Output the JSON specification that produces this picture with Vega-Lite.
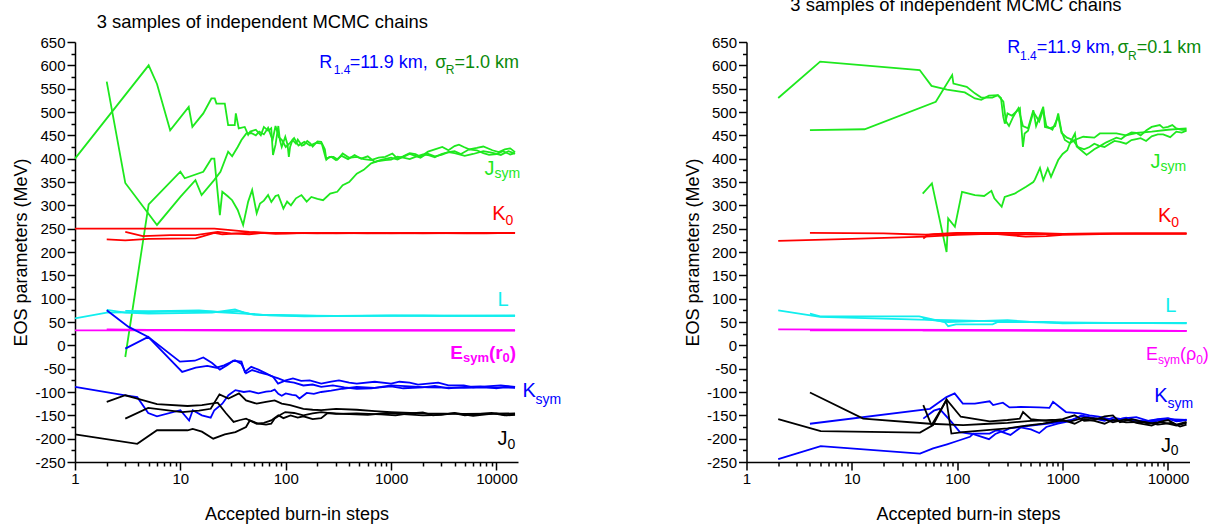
{
"$schema":"https://vega.github.io/schema/vega-lite/v6.json",
"autosize":{"type":"none"},
"padding":{"left":75,"top":42,"right":1141,"bottom":484},
"background":"#ffffff",
"bounds":"flush",
"spacing":228.5,
"config":{
 "font":"Liberation Sans",
 "view":{"stroke":null},
 "axis":{"grid":false,"domainColor":"#000","domainWidth":1.5,"tickColor":"#000","tickWidth":1.5,"labelFont":"Liberation Sans","labelFontSize":15,"labelColor":"#000","titleFont":"Liberation Sans","titleFontSize":18,"titleFontWeight":"normal","titleColor":"#000"},
 "text":{"font":"Liberation Sans"}
},
"datasets":{
"L1":[
{"q":"J","c":"a","x":1,"y":400},{"q":"J","c":"a","x":5,"y":600},{"q":"J","c":"a","x":6,"y":560},{"q":"J","c":"a","x":8,"y":461},{"q":"J","c":"a","x":12,"y":511},{"q":"J","c":"a","x":13,"y":468},{"q":"J","c":"a","x":16.5,"y":497},{"q":"J","c":"a","x":19.7,"y":529},{"q":"J","c":"a","x":21.2,"y":529},{"q":"J","c":"a","x":22,"y":518},{"q":"J","c":"a","x":26.4,"y":518},{"q":"J","c":"a","x":28.4,"y":472},{"q":"J","c":"a","x":32.8,"y":472},{"q":"J","c":"a","x":33.6,"y":497},{"q":"J","c":"a","x":35.8,"y":465},{"q":"J","c":"a","x":40.8,"y":468},{"q":"J","c":"a","x":44,"y":451},{"q":"J","c":"a","x":46,"y":458},{"q":"J","c":"a","x":52,"y":462},{"q":"J","c":"a","x":58,"y":450},{"q":"J","c":"a","x":62,"y":468},{"q":"J","c":"a","x":68,"y":460},{"q":"J","c":"a","x":72.8,"y":465},{"q":"J","c":"a","x":75.7,"y":408},{"q":"J","c":"a","x":80,"y":430},{"q":"J","c":"a","x":85,"y":470},{"q":"J","c":"a","x":88,"y":440},{"q":"J","c":"a","x":91.6,"y":425},{"q":"J","c":"a","x":99,"y":447},{"q":"J","c":"a","x":104,"y":430},{"q":"J","c":"a","x":107,"y":404},{"q":"J","c":"a","x":110,"y":425},{"q":"J","c":"a","x":116,"y":440},{"q":"J","c":"a","x":125,"y":432},{"q":"J","c":"a","x":130,"y":441},{"q":"J","c":"a","x":142,"y":428},{"q":"J","c":"a","x":150,"y":430},{"q":"J","c":"a","x":160,"y":438},{"q":"J","c":"a","x":171,"y":433},{"q":"J","c":"a","x":180,"y":426},{"q":"J","c":"a","x":200,"y":437},{"q":"J","c":"a","x":217,"y":436},{"q":"J","c":"a","x":235,"y":420},{"q":"J","c":"a","x":243,"y":398},{"q":"J","c":"a","x":260,"y":404},{"q":"J","c":"a","x":284,"y":404},{"q":"J","c":"a","x":310,"y":398},{"q":"J","c":"a","x":347,"y":411},{"q":"J","c":"a","x":400,"y":402},{"q":"J","c":"a","x":472,"y":404},{"q":"J","c":"a","x":550,"y":399},{"q":"J","c":"a","x":646,"y":397},{"q":"J","c":"a","x":760,"y":402},{"q":"J","c":"a","x":880,"y":404},{"q":"J","c":"a","x":1028,"y":411},{"q":"J","c":"a","x":1300,"y":405},{"q":"J","c":"a","x":1700,"y":410},{"q":"J","c":"a","x":2240,"y":415},{"q":"J","c":"a","x":3060,"y":425},{"q":"J","c":"a","x":4000,"y":427},{"q":"J","c":"a","x":4900,"y":425},{"q":"J","c":"a","x":6500,"y":423},{"q":"J","c":"a","x":9150,"y":418},{"q":"J","c":"a","x":12000,"y":420},{"q":"J","c":"a","x":15000,"y":414},
{"q":"J","c":"a","x":1150,"y":400},{"q":"J","c":"a","x":1500,"y":412},{"q":"J","c":"a","x":1900,"y":404},{"q":"J","c":"a","x":2600,"y":420},{"q":"J","c":"a","x":3500,"y":418},{"q":"J","c":"a","x":4400,"y":430},{"q":"J","c":"a","x":5500,"y":420},{"q":"J","c":"a","x":7500,"y":426},{"q":"J","c":"a","x":10500,"y":414},{"q":"J","c":"a","x":13500,"y":422},
{"q":"J","c":"b","x":2,"y":565},{"q":"J","c":"b","x":3,"y":348},{"q":"J","c":"b","x":6,"y":258},{"q":"J","c":"b","x":10,"y":318},{"q":"J","c":"b","x":13.9,"y":354},{"q":"J","c":"b","x":15.9,"y":322},{"q":"J","c":"b","x":20.9,"y":354},{"q":"J","c":"b","x":24,"y":372},{"q":"J","c":"b","x":28.4,"y":415},{"q":"J","c":"b","x":31,"y":405},{"q":"J","c":"b","x":35,"y":425},{"q":"J","c":"b","x":38,"y":440},{"q":"J","c":"b","x":42.3,"y":454},{"q":"J","c":"b","x":47,"y":455},{"q":"J","c":"b","x":52,"y":450},{"q":"J","c":"b","x":56,"y":458},{"q":"J","c":"b","x":62,"y":452},{"q":"J","c":"b","x":68,"y":466},{"q":"J","c":"b","x":75,"y":440},{"q":"J","c":"b","x":80,"y":470},{"q":"J","c":"b","x":86,"y":446},{"q":"J","c":"b","x":92,"y":440},{"q":"J","c":"b","x":100,"y":425},{"q":"J","c":"b","x":108,"y":432},{"q":"J","c":"b","x":120,"y":444},{"q":"J","c":"b","x":132,"y":428},{"q":"J","c":"b","x":150,"y":436},{"q":"J","c":"b","x":170,"y":428},{"q":"J","c":"b","x":195,"y":434},{"q":"J","c":"b","x":220,"y":432},{"q":"J","c":"b","x":240,"y":400},{"q":"J","c":"b","x":270,"y":404},{"q":"J","c":"b","x":300,"y":397},{"q":"J","c":"b","x":340,"y":406},{"q":"J","c":"b","x":390,"y":399},{"q":"J","c":"b","x":450,"y":408},{"q":"J","c":"b","x":520,"y":400},{"q":"J","c":"b","x":600,"y":405},{"q":"J","c":"b","x":700,"y":393},{"q":"J","c":"b","x":820,"y":398},{"q":"J","c":"b","x":1000,"y":402},{"q":"J","c":"b","x":1300,"y":404},{"q":"J","c":"b","x":1700,"y":406},{"q":"J","c":"b","x":2200,"y":411},{"q":"J","c":"b","x":3000,"y":408},{"q":"J","c":"b","x":4000,"y":416},{"q":"J","c":"b","x":5500,"y":420},{"q":"J","c":"b","x":7500,"y":412},{"q":"J","c":"b","x":10000,"y":410},{"q":"J","c":"b","x":15000,"y":412},
{"q":"J","c":"b","x":1150,"y":398},{"q":"J","c":"b","x":1500,"y":410},{"q":"J","c":"b","x":1900,"y":402},{"q":"J","c":"b","x":2600,"y":405},{"q":"J","c":"b","x":3500,"y":414},{"q":"J","c":"b","x":4600,"y":410},{"q":"J","c":"b","x":6500,"y":418},{"q":"J","c":"b","x":8500,"y":408},{"q":"J","c":"b","x":11500,"y":416},{"q":"J","c":"b","x":13500,"y":409},
{"q":"J","c":"c","x":3,"y":-25},{"q":"J","c":"c","x":5,"y":302},{"q":"J","c":"c","x":10,"y":372},{"q":"J","c":"c","x":11,"y":358},{"q":"J","c":"c","x":16.5,"y":372},{"q":"J","c":"c","x":19.7,"y":400},{"q":"J","c":"c","x":21,"y":400},{"q":"J","c":"c","x":23.7,"y":279},{"q":"J","c":"c","x":25,"y":329},{"q":"J","c":"c","x":28,"y":320},{"q":"J","c":"c","x":31,"y":311},{"q":"J","c":"c","x":35,"y":290},{"q":"J","c":"c","x":39.4,"y":258},{"q":"J","c":"c","x":44,"y":308},{"q":"J","c":"c","x":48,"y":333},{"q":"J","c":"c","x":53,"y":283},{"q":"J","c":"c","x":57,"y":304},{"q":"J","c":"c","x":62,"y":310},{"q":"J","c":"c","x":68,"y":322},{"q":"J","c":"c","x":73,"y":307},{"q":"J","c":"c","x":80,"y":320},{"q":"J","c":"c","x":85,"y":322},{"q":"J","c":"c","x":95,"y":293},{"q":"J","c":"c","x":103,"y":308},{"q":"J","c":"c","x":112,"y":300},{"q":"J","c":"c","x":125,"y":315},{"q":"J","c":"c","x":141,"y":322},{"q":"J","c":"c","x":158,"y":308},{"q":"J","c":"c","x":175,"y":318},{"q":"J","c":"c","x":200,"y":314},{"q":"J","c":"c","x":226,"y":311},{"q":"J","c":"c","x":264,"y":325},{"q":"J","c":"c","x":308,"y":329},{"q":"J","c":"c","x":347,"y":343},{"q":"J","c":"c","x":400,"y":350},{"q":"J","c":"c","x":472,"y":368},{"q":"J","c":"c","x":550,"y":376},{"q":"J","c":"c","x":646,"y":390},{"q":"J","c":"c","x":760,"y":395},{"q":"J","c":"c","x":880,"y":397},{"q":"J","c":"c","x":1000,"y":398},{"q":"J","c":"c","x":1300,"y":402},{"q":"J","c":"c","x":1700,"y":404},{"q":"J","c":"c","x":2300,"y":407},{"q":"J","c":"c","x":3000,"y":410},{"q":"J","c":"c","x":4000,"y":412},{"q":"J","c":"c","x":6000,"y":410},{"q":"J","c":"c","x":9000,"y":413},{"q":"J","c":"c","x":15000,"y":411},
{"q":"J","c":"c","x":1150,"y":404},{"q":"J","c":"c","x":1500,"y":399},{"q":"J","c":"c","x":2000,"y":409},{"q":"J","c":"c","x":2600,"y":403},{"q":"J","c":"c","x":3500,"y":414},{"q":"J","c":"c","x":5000,"y":406},{"q":"J","c":"c","x":7500,"y":416},{"q":"J","c":"c","x":11000,"y":408},{"q":"J","c":"c","x":13000,"y":416},
{"q":"K","c":"a","x":1,"y":250},{"q":"K","c":"a","x":3,"y":250},{"q":"K","c":"a","x":10,"y":250},{"q":"K","c":"a","x":21,"y":250},{"q":"K","c":"a","x":30,"y":247},{"q":"K","c":"a","x":45,"y":243},{"q":"K","c":"a","x":70,"y":241},{"q":"K","c":"a","x":100,"y":241},{"q":"K","c":"a","x":200,"y":240},{"q":"K","c":"a","x":400,"y":241},{"q":"K","c":"a","x":1000,"y":240},{"q":"K","c":"a","x":3000,"y":241},{"q":"K","c":"a","x":8000,"y":240},{"q":"K","c":"a","x":15000,"y":241},
{"q":"K","c":"b","x":2,"y":227},{"q":"K","c":"b","x":3,"y":225},{"q":"K","c":"b","x":5,"y":228},{"q":"K","c":"b","x":14,"y":229},{"q":"K","c":"b","x":21,"y":241},{"q":"K","c":"b","x":25,"y":238},{"q":"K","c":"b","x":35,"y":240},{"q":"K","c":"b","x":50,"y":242},{"q":"K","c":"b","x":80,"y":239},{"q":"K","c":"b","x":150,"y":241},{"q":"K","c":"b","x":300,"y":240},{"q":"K","c":"b","x":700,"y":241},{"q":"K","c":"b","x":2000,"y":240},{"q":"K","c":"b","x":6000,"y":241},{"q":"K","c":"b","x":15000,"y":241},
{"q":"K","c":"c","x":3,"y":243},{"q":"K","c":"c","x":4.4,"y":234},{"q":"K","c":"c","x":8,"y":236},{"q":"K","c":"c","x":14,"y":236},{"q":"K","c":"c","x":22.6,"y":243},{"q":"K","c":"c","x":30,"y":240},{"q":"K","c":"c","x":45,"y":238},{"q":"K","c":"c","x":60,"y":241},{"q":"K","c":"c","x":100,"y":240},{"q":"K","c":"c","x":250,"y":241},{"q":"K","c":"c","x":600,"y":240},{"q":"K","c":"c","x":1500,"y":241},{"q":"K","c":"c","x":5000,"y":240},{"q":"K","c":"c","x":15000,"y":241},
{"q":"L","c":"a","x":1,"y":58},{"q":"L","c":"a","x":2,"y":70},{"q":"L","c":"a","x":5,"y":71},{"q":"L","c":"a","x":10,"y":73},{"q":"L","c":"a","x":20,"y":72},{"q":"L","c":"a","x":40,"y":68},{"q":"L","c":"a","x":60,"y":65},{"q":"L","c":"a","x":100,"y":64},{"q":"L","c":"a","x":300,"y":63},{"q":"L","c":"a","x":1000,"y":64},{"q":"L","c":"a","x":3000,"y":63},{"q":"L","c":"a","x":15000,"y":64},
{"q":"L","c":"b","x":2,"y":76},{"q":"L","c":"b","x":3,"y":70},{"q":"L","c":"b","x":5,"y":68},{"q":"L","c":"b","x":10,"y":69},{"q":"L","c":"b","x":20,"y":70},{"q":"L","c":"b","x":33,"y":77},{"q":"L","c":"b","x":40,"y":70},{"q":"L","c":"b","x":50,"y":66},{"q":"L","c":"b","x":80,"y":65},{"q":"L","c":"b","x":200,"y":63},{"q":"L","c":"b","x":1000,"y":63},{"q":"L","c":"b","x":15000,"y":63},
{"q":"L","c":"c","x":3,"y":74},{"q":"L","c":"c","x":5,"y":73},{"q":"L","c":"c","x":8,"y":74},{"q":"L","c":"c","x":15,"y":75},{"q":"L","c":"c","x":25,"y":71},{"q":"L","c":"c","x":35,"y":74},{"q":"L","c":"c","x":45,"y":68},{"q":"L","c":"c","x":70,"y":64},{"q":"L","c":"c","x":150,"y":62},{"q":"L","c":"c","x":500,"y":63},{"q":"L","c":"c","x":2000,"y":64},{"q":"L","c":"c","x":15000,"y":63},
{"q":"E","c":"a","x":1,"y":32},{"q":"E","c":"a","x":10,"y":32},{"q":"E","c":"a","x":100,"y":32},{"q":"E","c":"a","x":1000,"y":32},{"q":"E","c":"a","x":15000,"y":32},
{"q":"E","c":"b","x":2,"y":34},{"q":"E","c":"b","x":5,"y":33},{"q":"E","c":"b","x":20,"y":33},{"q":"E","c":"b","x":200,"y":32},{"q":"E","c":"b","x":15000,"y":32},
{"q":"E","c":"c","x":3,"y":33},{"q":"E","c":"c","x":30,"y":32},{"q":"E","c":"c","x":15000,"y":32},
{"q":"S","c":"a","x":1,"y":-89},{"q":"S","c":"a","x":3,"y":-107},{"q":"S","c":"a","x":3.9,"y":-111},{"q":"S","c":"a","x":4.95,"y":-145},{"q":"S","c":"a","x":6,"y":-152},{"q":"S","c":"a","x":10,"y":-139},{"q":"S","c":"a","x":12.1,"y":-161},{"q":"S","c":"a","x":13.1,"y":-139},{"q":"S","c":"a","x":16,"y":-150},{"q":"S","c":"a","x":19.4,"y":-155},{"q":"S","c":"a","x":21,"y":-139},{"q":"S","c":"a","x":25,"y":-125},{"q":"S","c":"a","x":28.6,"y":-107},{"q":"S","c":"a","x":33.3,"y":-96},{"q":"S","c":"a","x":40,"y":-100},{"q":"S","c":"a","x":45.6,"y":-98},{"q":"S","c":"a","x":55,"y":-103},{"q":"S","c":"a","x":65,"y":-99},{"q":"S","c":"a","x":72.8,"y":-98},{"q":"S","c":"a","x":78.5,"y":-95},{"q":"S","c":"a","x":85,"y":-104},{"q":"S","c":"a","x":91.6,"y":-108},{"q":"S","c":"a","x":100,"y":-103},{"q":"S","c":"a","x":115,"y":-106},{"q":"S","c":"a","x":125,"y":-107},{"q":"S","c":"a","x":135,"y":-114},{"q":"S","c":"a","x":158,"y":-102},{"q":"S","c":"a","x":185,"y":-104},{"q":"S","c":"a","x":217,"y":-100},{"q":"S","c":"a","x":270,"y":-97},{"q":"S","c":"a","x":347,"y":-93},{"q":"S","c":"a","x":472,"y":-89},{"q":"S","c":"a","x":700,"y":-91},{"q":"S","c":"a","x":1000,"y":-88},{"q":"S","c":"a","x":2000,"y":-90},{"q":"S","c":"a","x":5000,"y":-89},{"q":"S","c":"a","x":15000,"y":-90},
{"q":"S","c":"a","x":1300,"y":-92},{"q":"S","c":"a","x":2600,"y":-87},{"q":"S","c":"a","x":3500,"y":-92},{"q":"S","c":"a","x":7000,"y":-88},{"q":"S","c":"a","x":10000,"y":-92},{"q":"S","c":"a","x":12500,"y":-88},
{"q":"S","c":"b","x":2,"y":75},{"q":"S","c":"b","x":3.2,"y":40},{"q":"S","c":"b","x":4.96,"y":18},{"q":"S","c":"b","x":9.9,"y":-35},{"q":"S","c":"b","x":13.7,"y":-33},{"q":"S","c":"b","x":16.5,"y":-26},{"q":"S","c":"b","x":20,"y":-38},{"q":"S","c":"b","x":23.7,"y":-52},{"q":"S","c":"b","x":28,"y":-42},{"q":"S","c":"b","x":31.7,"y":-33},{"q":"S","c":"b","x":38,"y":-35},{"q":"S","c":"b","x":40.9,"y":-57},{"q":"S","c":"b","x":47,"y":-46},{"q":"S","c":"b","x":55,"y":-52},{"q":"S","c":"b","x":65,"y":-60},{"q":"S","c":"b","x":76,"y":-68},{"q":"S","c":"b","x":84.5,"y":-82},{"q":"S","c":"b","x":100,"y":-75},{"q":"S","c":"b","x":117,"y":-71},{"q":"S","c":"b","x":140,"y":-76},{"q":"S","c":"b","x":169,"y":-75},{"q":"S","c":"b","x":217,"y":-82},{"q":"S","c":"b","x":270,"y":-78},{"q":"S","c":"b","x":320,"y":-75},{"q":"S","c":"b","x":400,"y":-80},{"q":"S","c":"b","x":472,"y":-82},{"q":"S","c":"b","x":700,"y":-78},{"q":"S","c":"b","x":1000,"y":-82},{"q":"S","c":"b","x":1500,"y":-80},{"q":"S","c":"b","x":2240,"y":-82},{"q":"S","c":"b","x":3500,"y":-86},{"q":"S","c":"b","x":4900,"y":-86},{"q":"S","c":"b","x":8000,"y":-88},{"q":"S","c":"b","x":15000,"y":-89},
{"q":"S","c":"b","x":1200,"y":-78},{"q":"S","c":"b","x":1800,"y":-84},{"q":"S","c":"b","x":2800,"y":-80},{"q":"S","c":"b","x":6000,"y":-90},{"q":"S","c":"b","x":11000,"y":-86},
{"q":"S","c":"c","x":3,"y":-7},{"q":"S","c":"c","x":4.95,"y":18},{"q":"S","c":"c","x":10.4,"y":-57},{"q":"S","c":"c","x":14,"y":-48},{"q":"S","c":"c","x":18,"y":-44},{"q":"S","c":"c","x":22,"y":-48},{"q":"S","c":"c","x":26,"y":-43},{"q":"S","c":"c","x":33,"y":-32},{"q":"S","c":"c","x":38,"y":-40},{"q":"S","c":"c","x":42,"y":-60},{"q":"S","c":"c","x":48,"y":-53},{"q":"S","c":"c","x":56,"y":-58},{"q":"S","c":"c","x":66,"y":-62},{"q":"S","c":"c","x":78,"y":-68},{"q":"S","c":"c","x":85,"y":-71},{"q":"S","c":"c","x":100,"y":-77},{"q":"S","c":"c","x":120,"y":-80},{"q":"S","c":"c","x":147,"y":-86},{"q":"S","c":"c","x":180,"y":-84},{"q":"S","c":"c","x":217,"y":-89},{"q":"S","c":"c","x":280,"y":-86},{"q":"S","c":"c","x":360,"y":-90},{"q":"S","c":"c","x":472,"y":-93},{"q":"S","c":"c","x":650,"y":-92},{"q":"S","c":"c","x":1000,"y":-86},{"q":"S","c":"c","x":1500,"y":-88},{"q":"S","c":"c","x":2240,"y":-90},{"q":"S","c":"c","x":4900,"y":-91},{"q":"S","c":"c","x":8000,"y":-90},{"q":"S","c":"c","x":15000,"y":-91},
{"q":"Z","c":"a","x":1,"y":-191},{"q":"Z","c":"a","x":3.9,"y":-211},{"q":"Z","c":"a","x":6,"y":-182},{"q":"Z","c":"a","x":11.7,"y":-182},{"q":"Z","c":"a","x":13.1,"y":-179},{"q":"Z","c":"a","x":16,"y":-185},{"q":"Z","c":"a","x":20.5,"y":-200},{"q":"Z","c":"a","x":26.4,"y":-191},{"q":"Z","c":"a","x":33.3,"y":-186},{"q":"Z","c":"a","x":42,"y":-175},{"q":"Z","c":"a","x":45.6,"y":-161},{"q":"Z","c":"a","x":55,"y":-168},{"q":"Z","c":"a","x":65,"y":-170},{"q":"Z","c":"a","x":72.8,"y":-168},{"q":"Z","c":"a","x":78.5,"y":-157},{"q":"Z","c":"a","x":90,"y":-148},{"q":"Z","c":"a","x":99,"y":-143},{"q":"Z","c":"a","x":120,"y":-145},{"q":"Z","c":"a","x":147,"y":-150},{"q":"Z","c":"a","x":180,"y":-146},{"q":"Z","c":"a","x":217,"y":-143},{"q":"Z","c":"a","x":300,"y":-147},{"q":"Z","c":"a","x":472,"y":-146},{"q":"Z","c":"a","x":800,"y":-148},{"q":"Z","c":"a","x":1500,"y":-146},{"q":"Z","c":"a","x":3000,"y":-148},{"q":"Z","c":"a","x":7000,"y":-147},{"q":"Z","c":"a","x":15000,"y":-148},
{"q":"Z","c":"a","x":1100,"y":-150},{"q":"Z","c":"a","x":2000,"y":-144},{"q":"Z","c":"a","x":2500,"y":-150},{"q":"Z","c":"a","x":4000,"y":-146},{"q":"Z","c":"a","x":5000,"y":-150},{"q":"Z","c":"a","x":9000,"y":-145},{"q":"Z","c":"a","x":12000,"y":-150},
{"q":"Z","c":"b","x":2,"y":-121},{"q":"Z","c":"b","x":3,"y":-107},{"q":"Z","c":"b","x":3.9,"y":-114},{"q":"Z","c":"b","x":6,"y":-126},{"q":"Z","c":"b","x":11.7,"y":-130},{"q":"Z","c":"b","x":16,"y":-128},{"q":"Z","c":"b","x":22.6,"y":-123},{"q":"Z","c":"b","x":27,"y":-145},{"q":"Z","c":"b","x":32,"y":-164},{"q":"Z","c":"b","x":37,"y":-160},{"q":"Z","c":"b","x":42,"y":-157},{"q":"Z","c":"b","x":53,"y":-168},{"q":"Z","c":"b","x":62,"y":-166},{"q":"Z","c":"b","x":72.8,"y":-161},{"q":"Z","c":"b","x":85,"y":-150},{"q":"Z","c":"b","x":95,"y":-156},{"q":"Z","c":"b","x":111,"y":-150},{"q":"Z","c":"b","x":130,"y":-155},{"q":"Z","c":"b","x":147,"y":-152},{"q":"Z","c":"b","x":180,"y":-158},{"q":"Z","c":"b","x":217,"y":-156},{"q":"Z","c":"b","x":250,"y":-145},{"q":"Z","c":"b","x":350,"y":-147},{"q":"Z","c":"b","x":600,"y":-149},{"q":"Z","c":"b","x":1200,"y":-147},{"q":"Z","c":"b","x":3000,"y":-149},{"q":"Z","c":"b","x":8000,"y":-148},{"q":"Z","c":"b","x":15000,"y":-149},
{"q":"Z","c":"b","x":900,"y":-145},{"q":"Z","c":"b","x":2000,"y":-150},{"q":"Z","c":"b","x":4000,"y":-145},{"q":"Z","c":"b","x":6000,"y":-151},{"q":"Z","c":"b","x":10000,"y":-146},{"q":"Z","c":"b","x":12500,"y":-150},
{"q":"Z","c":"c","x":3,"y":-157},{"q":"Z","c":"c","x":4.95,"y":-134},{"q":"Z","c":"c","x":10.4,"y":-143},{"q":"Z","c":"c","x":15,"y":-140},{"q":"Z","c":"c","x":19.4,"y":-136},{"q":"Z","c":"c","x":23.5,"y":-105},{"q":"Z","c":"c","x":28.6,"y":-114},{"q":"Z","c":"c","x":36,"y":-103},{"q":"Z","c":"c","x":42,"y":-118},{"q":"Z","c":"c","x":53,"y":-125},{"q":"Z","c":"c","x":65,"y":-121},{"q":"Z","c":"c","x":78.5,"y":-118},{"q":"Z","c":"c","x":91.6,"y":-125},{"q":"Z","c":"c","x":110,"y":-128},{"q":"Z","c":"c","x":147,"y":-136},{"q":"Z","c":"c","x":180,"y":-138},{"q":"Z","c":"c","x":217,"y":-139},{"q":"Z","c":"c","x":300,"y":-136},{"q":"Z","c":"c","x":472,"y":-138},{"q":"Z","c":"c","x":700,"y":-141},{"q":"Z","c":"c","x":1000,"y":-143},{"q":"Z","c":"c","x":2000,"y":-146},{"q":"Z","c":"c","x":5000,"y":-147},{"q":"Z","c":"c","x":15000,"y":-146}
],
"L2":[
{"q":"J","c":"a","x":2,"y":530},{"q":"J","c":"a","x":5,"y":608},{"q":"J","c":"a","x":44,"y":590},{"q":"J","c":"a","x":57,"y":556},{"q":"J","c":"a","x":80,"y":548},{"q":"J","c":"a","x":118,"y":542},{"q":"J","c":"a","x":147,"y":529},{"q":"J","c":"a","x":169,"y":526},{"q":"J","c":"a","x":200,"y":535},{"q":"J","c":"a","x":243,"y":536},{"q":"J","c":"a","x":274,"y":522},{"q":"J","c":"a","x":290,"y":480},{"q":"J","c":"a","x":310,"y":470},{"q":"J","c":"a","x":340,"y":490},{"q":"J","c":"a","x":380,"y":508},{"q":"J","c":"a","x":420,"y":470},{"q":"J","c":"a","x":470,"y":465},{"q":"J","c":"a","x":527,"y":504},{"q":"J","c":"a","x":560,"y":470},{"q":"J","c":"a","x":655,"y":511},{"q":"J","c":"a","x":680,"y":468},{"q":"J","c":"a","x":760,"y":465},{"q":"J","c":"a","x":850,"y":470},{"q":"J","c":"a","x":908,"y":497},{"q":"J","c":"a","x":977,"y":458},{"q":"J","c":"a","x":1050,"y":440},{"q":"J","c":"a","x":1174,"y":433},{"q":"J","c":"a","x":1310,"y":454},{"q":"J","c":"a","x":1360,"y":426},{"q":"J","c":"a","x":1500,"y":418},{"q":"J","c":"a","x":1690,"y":408},{"q":"J","c":"a","x":2000,"y":420},{"q":"J","c":"a","x":2600,"y":435},{"q":"J","c":"a","x":3240,"y":445},{"q":"J","c":"a","x":4000,"y":450},{"q":"J","c":"a","x":5000,"y":455},{"q":"J","c":"a","x":6250,"y":461},{"q":"J","c":"a","x":8360,"y":472},{"q":"J","c":"a","x":10000,"y":468},{"q":"J","c":"a","x":12000,"y":465},{"q":"J","c":"a","x":15000,"y":462},
{"q":"J","c":"a","x":2300,"y":428},{"q":"J","c":"a","x":2900,"y":440},{"q":"J","c":"a","x":3600,"y":442},{"q":"J","c":"a","x":4500,"y":456},{"q":"J","c":"a","x":5500,"y":450},{"q":"J","c":"a","x":7000,"y":468},{"q":"J","c":"a","x":9000,"y":466},{"q":"J","c":"a","x":11000,"y":472},{"q":"J","c":"a","x":13500,"y":462},
{"q":"J","c":"b","x":4,"y":461},{"q":"J","c":"b","x":13.2,"y":463},{"q":"J","c":"b","x":62.6,"y":522},{"q":"J","c":"b","x":89.5,"y":579},{"q":"J","c":"b","x":92,"y":561},{"q":"J","c":"b","x":123,"y":554},{"q":"J","c":"b","x":147,"y":540},{"q":"J","c":"b","x":169,"y":531},{"q":"J","c":"b","x":215,"y":531},{"q":"J","c":"b","x":243,"y":536},{"q":"J","c":"b","x":260,"y":530},{"q":"J","c":"b","x":273,"y":490},{"q":"J","c":"b","x":283,"y":475},{"q":"J","c":"b","x":300,"y":497},{"q":"J","c":"b","x":330,"y":492},{"q":"J","c":"b","x":393,"y":508},{"q":"J","c":"b","x":420,"y":425},{"q":"J","c":"b","x":436,"y":454},{"q":"J","c":"b","x":470,"y":460},{"q":"J","c":"b","x":527,"y":500},{"q":"J","c":"b","x":600,"y":480},{"q":"J","c":"b","x":655,"y":505},{"q":"J","c":"b","x":700,"y":470},{"q":"J","c":"b","x":800,"y":462},{"q":"J","c":"b","x":908,"y":490},{"q":"J","c":"b","x":977,"y":455},{"q":"J","c":"b","x":1100,"y":445},{"q":"J","c":"b","x":1250,"y":440},{"q":"J","c":"b","x":1400,"y":425},{"q":"J","c":"b","x":1600,"y":420},{"q":"J","c":"b","x":1800,"y":425},{"q":"J","c":"b","x":2200,"y":428},{"q":"J","c":"b","x":2800,"y":432},{"q":"J","c":"b","x":3500,"y":436},{"q":"J","c":"b","x":4500,"y":440},{"q":"J","c":"b","x":5500,"y":444},{"q":"J","c":"b","x":7000,"y":448},{"q":"J","c":"b","x":9000,"y":452},{"q":"J","c":"b","x":12000,"y":458},{"q":"J","c":"b","x":15000,"y":460},
{"q":"J","c":"b","x":2000,"y":432},{"q":"J","c":"b","x":2500,"y":425},{"q":"J","c":"b","x":3100,"y":438},{"q":"J","c":"b","x":4000,"y":432},{"q":"J","c":"b","x":5000,"y":442},{"q":"J","c":"b","x":6200,"y":438},{"q":"J","c":"b","x":8000,"y":452},{"q":"J","c":"b","x":10500,"y":446},{"q":"J","c":"b","x":13500,"y":456},
{"q":"J","c":"c","x":47,"y":325},{"q":"J","c":"c","x":57.5,"y":347},{"q":"J","c":"c","x":79.2,"y":200},{"q":"J","c":"c","x":82,"y":272},{"q":"J","c":"c","x":95,"y":254},{"q":"J","c":"c","x":111,"y":329},{"q":"J","c":"c","x":147,"y":322},{"q":"J","c":"c","x":180,"y":320},{"q":"J","c":"c","x":211,"y":331},{"q":"J","c":"c","x":225,"y":315},{"q":"J","c":"c","x":264,"y":297},{"q":"J","c":"c","x":282,"y":318},{"q":"J","c":"c","x":350,"y":325},{"q":"J","c":"c","x":450,"y":340},{"q":"J","c":"c","x":527,"y":350},{"q":"J","c":"c","x":545,"y":355},{"q":"J","c":"c","x":610,"y":380},{"q":"J","c":"c","x":655,"y":354},{"q":"J","c":"c","x":723,"y":379},{"q":"J","c":"c","x":776,"y":361},{"q":"J","c":"c","x":908,"y":397},{"q":"J","c":"c","x":1000,"y":410},{"q":"J","c":"c","x":1107,"y":418},{"q":"J","c":"c","x":1174,"y":433},{"q":"J","c":"c","x":1300,"y":440},{"q":"J","c":"c","x":1570,"y":447},{"q":"J","c":"c","x":2000,"y":445},{"q":"J","c":"c","x":2255,"y":454},{"q":"J","c":"c","x":3240,"y":454},{"q":"J","c":"c","x":4000,"y":450},{"q":"J","c":"c","x":5000,"y":455},{"q":"J","c":"c","x":7000,"y":458},{"q":"J","c":"c","x":10000,"y":462},{"q":"J","c":"c","x":15000,"y":465},
{"q":"K","c":"a","x":2,"y":224},{"q":"K","c":"a","x":10,"y":228},{"q":"K","c":"a","x":50,"y":233},{"q":"K","c":"a","x":100,"y":237},{"q":"K","c":"a","x":200,"y":239},{"q":"K","c":"a","x":500,"y":238},{"q":"K","c":"a","x":1000,"y":239},{"q":"K","c":"a","x":3000,"y":240},{"q":"K","c":"a","x":15000,"y":240},
{"q":"K","c":"b","x":4,"y":241},{"q":"K","c":"b","x":20,"y":240},{"q":"K","c":"b","x":50,"y":237},{"q":"K","c":"b","x":100,"y":240},{"q":"K","c":"b","x":200,"y":240},{"q":"K","c":"b","x":446,"y":233},{"q":"K","c":"b","x":700,"y":234},{"q":"K","c":"b","x":1000,"y":237},{"q":"K","c":"b","x":3000,"y":239},{"q":"K","c":"b","x":15000,"y":239},
{"q":"K","c":"c","x":47.6,"y":229},{"q":"K","c":"c","x":52,"y":236},{"q":"K","c":"c","x":60,"y":238},{"q":"K","c":"c","x":100,"y":241},{"q":"K","c":"c","x":200,"y":241},{"q":"K","c":"c","x":500,"y":241},{"q":"K","c":"c","x":1000,"y":239},{"q":"K","c":"c","x":5000,"y":240},{"q":"K","c":"c","x":15000,"y":240},
{"q":"L","c":"a","x":2,"y":75},{"q":"L","c":"a","x":5,"y":61},{"q":"L","c":"a","x":43.5,"y":55},{"q":"L","c":"a","x":82,"y":54},{"q":"L","c":"a","x":200,"y":52},{"q":"L","c":"a","x":500,"y":50},{"q":"L","c":"a","x":1000,"y":49},{"q":"L","c":"a","x":3000,"y":48},{"q":"L","c":"a","x":15000,"y":48},
{"q":"L","c":"b","x":4,"y":68},{"q":"L","c":"b","x":5,"y":62},{"q":"L","c":"b","x":43.5,"y":62},{"q":"L","c":"b","x":76,"y":50},{"q":"L","c":"b","x":82,"y":41},{"q":"L","c":"b","x":97,"y":45},{"q":"L","c":"b","x":216,"y":45},{"q":"L","c":"b","x":243,"y":50},{"q":"L","c":"b","x":660,"y":50},{"q":"L","c":"b","x":1000,"y":47},{"q":"L","c":"b","x":3000,"y":48},{"q":"L","c":"b","x":15000,"y":48},
{"q":"L","c":"c","x":47,"y":57},{"q":"L","c":"c","x":82,"y":50},{"q":"L","c":"c","x":150,"y":52},{"q":"L","c":"c","x":300,"y":54},{"q":"L","c":"c","x":500,"y":50},{"q":"L","c":"c","x":1000,"y":48},{"q":"L","c":"c","x":3000,"y":48},{"q":"L","c":"c","x":15000,"y":47},
{"q":"E","c":"a","x":2,"y":34},{"q":"E","c":"a","x":100,"y":33},{"q":"E","c":"a","x":15000,"y":31},
{"q":"E","c":"b","x":4,"y":32},{"q":"E","c":"b","x":200,"y":32},{"q":"E","c":"b","x":15000,"y":31},
{"q":"E","c":"c","x":47,"y":32},{"q":"E","c":"c","x":15000,"y":31},
{"q":"S","c":"a","x":2,"y":-244},{"q":"S","c":"a","x":5.06,"y":-216},{"q":"S","c":"a","x":44.3,"y":-232},{"q":"S","c":"a","x":59,"y":-221},{"q":"S","c":"a","x":80,"y":-212},{"q":"S","c":"a","x":100,"y":-205},{"q":"S","c":"a","x":132,"y":-196},{"q":"S","c":"a","x":142,"y":-189},{"q":"S","c":"a","x":203,"y":-189},{"q":"S","c":"a","x":235,"y":-182},{"q":"S","c":"a","x":271,"y":-185},{"q":"S","c":"a","x":313,"y":-178},{"q":"S","c":"a","x":392,"y":-175},{"q":"S","c":"a","x":500,"y":-172},{"q":"S","c":"a","x":700,"y":-168},{"q":"S","c":"a","x":900,"y":-165},{"q":"S","c":"a","x":1200,"y":-160},{"q":"S","c":"a","x":2000,"y":-157},{"q":"S","c":"a","x":4000,"y":-160},{"q":"S","c":"a","x":8000,"y":-159},{"q":"S","c":"a","x":15000,"y":-160},
{"q":"S","c":"a","x":1500,"y":-152},{"q":"S","c":"a","x":2500,"y":-162},{"q":"S","c":"a","x":3000,"y":-155},{"q":"S","c":"a","x":6000,"y":-163},{"q":"S","c":"a","x":10000,"y":-157},{"q":"S","c":"a","x":12000,"y":-163},
{"q":"S","c":"b","x":4,"y":-168},{"q":"S","c":"b","x":55,"y":-136},{"q":"S","c":"b","x":79,"y":-111},{"q":"S","c":"b","x":94.5,"y":-103},{"q":"S","c":"b","x":113,"y":-125},{"q":"S","c":"b","x":147,"y":-125},{"q":"S","c":"b","x":203,"y":-120},{"q":"S","c":"b","x":219,"y":-128},{"q":"S","c":"b","x":271,"y":-123},{"q":"S","c":"b","x":313,"y":-133},{"q":"S","c":"b","x":400,"y":-132},{"q":"S","c":"b","x":600,"y":-133},{"q":"S","c":"b","x":749,"y":-134},{"q":"S","c":"b","x":811,"y":-121},{"q":"S","c":"b","x":1076,"y":-143},{"q":"S","c":"b","x":1479,"y":-146},{"q":"S","c":"b","x":2200,"y":-153},{"q":"S","c":"b","x":4000,"y":-156},{"q":"S","c":"b","x":8000,"y":-158},{"q":"S","c":"b","x":15000,"y":-159},
{"q":"S","c":"b","x":1800,"y":-150},{"q":"S","c":"b","x":3000,"y":-160},{"q":"S","c":"b","x":5000,"y":-154},{"q":"S","c":"b","x":6500,"y":-162},{"q":"S","c":"b","x":10000,"y":-156},{"q":"S","c":"b","x":12500,"y":-162},
{"q":"S","c":"c","x":47.6,"y":-157},{"q":"S","c":"c","x":60,"y":-140},{"q":"S","c":"c","x":68,"y":-136},{"q":"S","c":"c","x":88,"y":-164},{"q":"S","c":"c","x":106,"y":-186},{"q":"S","c":"c","x":140,"y":-190},{"q":"S","c":"c","x":200,"y":-201},{"q":"S","c":"c","x":230,"y":-190},{"q":"S","c":"c","x":260,"y":-185},{"q":"S","c":"c","x":320,"y":-192},{"q":"S","c":"c","x":400,"y":-176},{"q":"S","c":"c","x":500,"y":-180},{"q":"S","c":"c","x":600,"y":-188},{"q":"S","c":"c","x":700,"y":-175},{"q":"S","c":"c","x":900,"y":-168},{"q":"S","c":"c","x":1200,"y":-162},{"q":"S","c":"c","x":2000,"y":-156},{"q":"S","c":"c","x":5000,"y":-161},{"q":"S","c":"c","x":15000,"y":-160},
{"q":"S","c":"c","x":1500,"y":-150},{"q":"S","c":"c","x":3000,"y":-162},{"q":"S","c":"c","x":4000,"y":-155},{"q":"S","c":"c","x":7000,"y":-164},{"q":"S","c":"c","x":10000,"y":-158},
{"q":"Z","c":"a","x":2,"y":-158},{"q":"Z","c":"a","x":5.06,"y":-184},{"q":"Z","c":"a","x":44.3,"y":-187},{"q":"Z","c":"a","x":59,"y":-171},{"q":"Z","c":"a","x":79,"y":-116},{"q":"Z","c":"a","x":108,"y":-153},{"q":"Z","c":"a","x":203,"y":-163},{"q":"Z","c":"a","x":300,"y":-160},{"q":"Z","c":"a","x":392,"y":-157},{"q":"Z","c":"a","x":421,"y":-143},{"q":"Z","c":"a","x":500,"y":-158},{"q":"Z","c":"a","x":700,"y":-162},{"q":"Z","c":"a","x":1000,"y":-158},{"q":"Z","c":"a","x":2000,"y":-160},{"q":"Z","c":"a","x":3000,"y":-150},{"q":"Z","c":"a","x":5000,"y":-160},{"q":"Z","c":"a","x":8000,"y":-165},{"q":"Z","c":"a","x":15000,"y":-164},
{"q":"Z","c":"a","x":1300,"y":-150},{"q":"Z","c":"a","x":1600,"y":-162},{"q":"Z","c":"a","x":2500,"y":-152},{"q":"Z","c":"a","x":3500,"y":-165},{"q":"Z","c":"a","x":4500,"y":-158},{"q":"Z","c":"a","x":6500,"y":-168},{"q":"Z","c":"a","x":10000,"y":-160},{"q":"Z","c":"a","x":12000,"y":-170},
{"q":"Z","c":"b","x":4,"y":-101},{"q":"Z","c":"b","x":12.8,"y":-157},{"q":"Z","c":"b","x":55,"y":-168},{"q":"Z","c":"b","x":114,"y":-171},{"q":"Z","c":"b","x":200,"y":-168},{"q":"Z","c":"b","x":300,"y":-166},{"q":"Z","c":"b","x":500,"y":-162},{"q":"Z","c":"b","x":800,"y":-160},{"q":"Z","c":"b","x":1200,"y":-163},{"q":"Z","c":"b","x":2500,"y":-158},{"q":"Z","c":"b","x":5000,"y":-166},{"q":"Z","c":"b","x":10000,"y":-168},{"q":"Z","c":"b","x":15000,"y":-166},
{"q":"Z","c":"b","x":1600,"y":-155},{"q":"Z","c":"b","x":3000,"y":-165},{"q":"Z","c":"b","x":4000,"y":-158},{"q":"Z","c":"b","x":7000,"y":-172},{"q":"Z","c":"b","x":8500,"y":-164},{"q":"Z","c":"b","x":12000,"y":-172},
{"q":"Z","c":"c","x":47.6,"y":-128},{"q":"Z","c":"c","x":57,"y":-171},{"q":"Z","c":"c","x":79,"y":-118},{"q":"Z","c":"c","x":88,"y":-189},{"q":"Z","c":"c","x":113,"y":-186},{"q":"Z","c":"c","x":203,"y":-181},{"q":"Z","c":"c","x":300,"y":-178},{"q":"Z","c":"c","x":450,"y":-172},{"q":"Z","c":"c","x":650,"y":-168},{"q":"Z","c":"c","x":1000,"y":-160},{"q":"Z","c":"c","x":2000,"y":-162},{"q":"Z","c":"c","x":4000,"y":-165},{"q":"Z","c":"c","x":8000,"y":-170},{"q":"Z","c":"c","x":15000,"y":-170},
{"q":"Z","c":"c","x":1300,"y":-168},{"q":"Z","c":"c","x":1600,"y":-158},{"q":"Z","c":"c","x":2500,"y":-168},{"q":"Z","c":"c","x":3000,"y":-160},{"q":"Z","c":"c","x":6000,"y":-164},{"q":"Z","c":"c","x":11000,"y":-166},{"q":"Z","c":"c","x":13000,"y":-174}
],
"T1":[
{"s":"t","q":"Z","t":"3 samples of independent MCMC chains","x":59.9,"y":680.7},
{"s":"a","q":"R","t":"R","x":208,"y":593.6},{"s":"as","q":"R","t":"1.4","x":285,"y":581.4},{"s":"a","q":"R","t":"=11.9 km,","x":404,"y":593.6},{"s":"a","q":"G","t":"σ","x":2625,"y":593.6},{"s":"as","q":"G","t":"R","x":3300,"y":581.4},{"s":"a","q":"G","t":"=1.0 km","x":4000,"y":593.6},
{"s":"m","q":"J","t":"J","x":7700,"y":365},{"s":"ms","q":"J","t":"sym","x":9570,"y":358},
{"s":"m","q":"K","t":"K","x":9100,"y":268},{"s":"ms","q":"K","t":"0","x":12170,"y":258},
{"s":"m","q":"L","t":"L","x":10220,"y":84},
{"s":"b","q":"E","t":"E","x":3640,"y":-28.3},{"s":"bs","q":"E","t":"sym","x":4803,"y":-35.6},{"s":"b","q":"E","t":"(r","x":8470,"y":-28.3},{"s":"bs","q":"E","t":"0","x":11420,"y":-35.6},{"s":"b","q":"E","t":")","x":13370,"y":-28.3},
{"s":"m","q":"S","t":"K","x":17640,"y":-110.6},{"s":"ms","q":"S","t":"sym","x":23430,"y":-124.8},
{"s":"m","q":"Z","t":"J","x":10220,"y":-214},{"s":"ms","q":"Z","t":"0","x":12710,"y":-222}
],
"T2":[
{"s":"t","q":"Z","t":"3 samples of independent MCMC chains","x":97.2,"y":716.5},
{"s":"a","q":"R","t":"R","x":299,"y":625.7},{"s":"as","q":"R","t":"1.4","x":395,"y":611.4},{"s":"a","q":"R","t":"=11.9 km,","x":568,"y":625.7},{"s":"a","q":"G","t":"σ","x":3318,"y":625.7},{"s":"as","q":"G","t":"R","x":4174,"y":611.4},{"s":"a","q":"G","t":"=0.1 km","x":5047,"y":625.7},
{"s":"m","q":"J","t":"J","x":6840,"y":380},{"s":"ms","q":"J","t":"sym","x":8510,"y":373},
{"s":"m","q":"K","t":"K","x":8020,"y":265},{"s":"ms","q":"K","t":"0","x":10720,"y":254},
{"s":"m","q":"L","t":"L","x":9420,"y":72},
{"s":"r","q":"E","t":"E","x":6200,"y":-30.5},{"s":"rs","q":"E","t":"sym","x":8055,"y":-39},{"s":"r","q":"E","t":"(ρ","x":13030,"y":-30.5},{"s":"rs","q":"E","t":"0","x":18560,"y":-39},{"s":"r","q":"E","t":")","x":21430,"y":-30.5},
{"s":"m","q":"S","t":"K","x":7400,"y":-121.4},{"s":"ms","q":"S","t":"sym","x":9890,"y":-133.4},
{"s":"m","q":"Z","t":"J","x":8570,"y":-228.6},{"s":"ms","q":"Z","t":"0","x":10640,"y":-236}
]
},
"hconcat":[
{
"width":443,"height":420,
"encoding":{
 "x":{"field":"x","type":"quantitative","scale":{"type":"log","domain":[1,16000]},"axis":{"values":[1,2,3,4,5,6,7,8,9,10,20,30,40,50,60,70,80,90,100,200,300,400,500,600,700,800,900,1000,2000,3000,4000,5000,6000,7000,8000,9000,10000],"labelExpr":"indexof([1,10,100,1000,10000], datum.value) >= 0 ? '' + datum.value : ''","tickSize":{"condition":{"test":"indexof([1,10,100,1000,10000], datum.value) >= 0","value":8},"value":4},"labelPadding":1,"labelOverlap":false,"labelFlush":false,"title":"Accepted burn-in steps","titlePadding":19}},
 "y":{"field":"y","type":"quantitative","scale":{"domain":[-250,650]},"axis":{"values":[-250,-225,-200,-175,-150,-125,-100,-75,-50,-25,0,25,50,75,100,125,150,175,200,225,250,275,300,325,350,375,400,425,450,475,500,525,550,575,600,625,650],"labelExpr":"datum.value % 50 === 0 ? '' + datum.value : ''","tickSize":{"condition":{"test":"datum.value % 50 === 0","value":8},"value":4},"labelPadding":2,"labelOverlap":false,"title":"EOS parameters (MeV)","titlePadding":4}},
 "color":{"field":"q","type":"nominal","scale":{"domain":["J","K","L","E","S","Z","R","G"],"range":["#1ee81e","#ff0000","#11eeee","#ff00ff","#0000ff","#000000","#0000ff","#0a8a0a"]},"legend":null}
},
"layer":[
 {"data":{"name":"L1"},"mark":{"type":"line","strokeWidth":1.8},"encoding":{"detail":{"field":"c"}}},
 {"data":{"name":"T1"},"transform":[{"filter":"datum.s=='t'"}],"mark":{"type":"text","align":"center","baseline":"alphabetic","fontSize":18.4},"encoding":{"text":{"field":"t"}}},
 {"data":{"name":"T1"},"transform":[{"filter":"datum.s=='m'"}],"mark":{"type":"text","align":"left","baseline":"alphabetic","fontSize":20},"encoding":{"text":{"field":"t"}}},
 {"data":{"name":"T1"},"transform":[{"filter":"datum.s=='ms'"}],"mark":{"type":"text","align":"left","baseline":"alphabetic","fontSize":14},"encoding":{"text":{"field":"t"}}},
 {"data":{"name":"T1"},"transform":[{"filter":"datum.s=='b'"}],"mark":{"type":"text","align":"left","baseline":"alphabetic","fontSize":19,"fontWeight":"bold"},"encoding":{"text":{"field":"t"}}},
 {"data":{"name":"T1"},"transform":[{"filter":"datum.s=='bs'"}],"mark":{"type":"text","align":"left","baseline":"alphabetic","fontSize":13,"fontWeight":"bold"},"encoding":{"text":{"field":"t"}}},
 {"data":{"name":"T1"},"transform":[{"filter":"datum.s=='a'"}],"mark":{"type":"text","align":"left","baseline":"alphabetic","fontSize":18},"encoding":{"text":{"field":"t"}}},
 {"data":{"name":"T1"},"transform":[{"filter":"datum.s=='as'"}],"mark":{"type":"text","align":"left","baseline":"alphabetic","fontSize":12},"encoding":{"text":{"field":"t"}}}
]
},
{
"width":443,"height":420,
"encoding":{
 "x":{"field":"x","type":"quantitative","scale":{"type":"log","domain":[1,16000]},"axis":{"values":[1,2,3,4,5,6,7,8,9,10,20,30,40,50,60,70,80,90,100,200,300,400,500,600,700,800,900,1000,2000,3000,4000,5000,6000,7000,8000,9000,10000],"labelExpr":"indexof([1,10,100,1000,10000], datum.value) >= 0 ? '' + datum.value : ''","tickSize":{"condition":{"test":"indexof([1,10,100,1000,10000], datum.value) >= 0","value":8},"value":4},"labelPadding":1,"labelOverlap":false,"labelFlush":false,"title":"Accepted burn-in steps","titlePadding":19}},
 "y":{"field":"y","type":"quantitative","scale":{"domain":[-250,650]},"axis":{"values":[-250,-225,-200,-175,-150,-125,-100,-75,-50,-25,0,25,50,75,100,125,150,175,200,225,250,275,300,325,350,375,400,425,450,475,500,525,550,575,600,625,650],"labelExpr":"datum.value % 50 === 0 ? '' + datum.value : ''","tickSize":{"condition":{"test":"datum.value % 50 === 0","value":8},"value":4},"labelPadding":2,"labelOverlap":false,"title":"EOS parameters (MeV)","titlePadding":4}},
 "color":{"field":"q","type":"nominal","scale":{"domain":["J","K","L","E","S","Z","R","G"],"range":["#1ee81e","#ff0000","#11eeee","#ff00ff","#0000ff","#000000","#0000ff","#0a8a0a"]},"legend":null}
},
"layer":[
 {"data":{"name":"L2"},"mark":{"type":"line","strokeWidth":1.8},"encoding":{"detail":{"field":"c"}}},
 {"data":{"name":"T2"},"transform":[{"filter":"datum.s=='t'"}],"mark":{"type":"text","align":"center","baseline":"alphabetic","fontSize":18.4},"encoding":{"text":{"field":"t"}}},
 {"data":{"name":"T2"},"transform":[{"filter":"datum.s=='m'"}],"mark":{"type":"text","align":"left","baseline":"alphabetic","fontSize":20},"encoding":{"text":{"field":"t"}}},
 {"data":{"name":"T2"},"transform":[{"filter":"datum.s=='ms'"}],"mark":{"type":"text","align":"left","baseline":"alphabetic","fontSize":14},"encoding":{"text":{"field":"t"}}},
 {"data":{"name":"T2"},"transform":[{"filter":"datum.s=='r'"}],"mark":{"type":"text","align":"left","baseline":"alphabetic","fontSize":18},"encoding":{"text":{"field":"t"}}},
 {"data":{"name":"T2"},"transform":[{"filter":"datum.s=='rs'"}],"mark":{"type":"text","align":"left","baseline":"alphabetic","fontSize":12},"encoding":{"text":{"field":"t"}}},
 {"data":{"name":"T2"},"transform":[{"filter":"datum.s=='a'"}],"mark":{"type":"text","align":"left","baseline":"alphabetic","fontSize":18},"encoding":{"text":{"field":"t"}}},
 {"data":{"name":"T2"},"transform":[{"filter":"datum.s=='as'"}],"mark":{"type":"text","align":"left","baseline":"alphabetic","fontSize":12},"encoding":{"text":{"field":"t"}}}
]
}
]
}
